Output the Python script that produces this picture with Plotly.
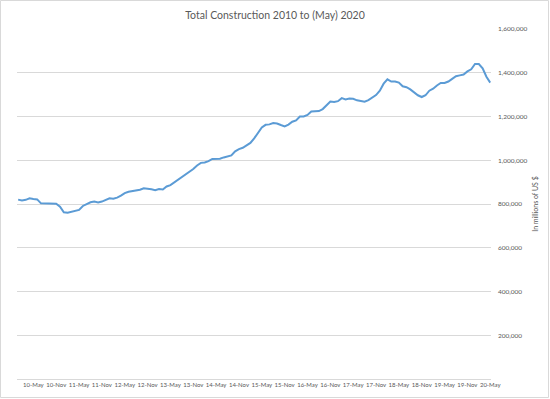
import plotly.graph_objects as go
import pandas as pd

# Monthly total construction spending, Jan 2010 .. May 2020 (millions of US $)
months = pd.date_range("2010-01-01", "2020-05-01", freq="MS").strftime("%Y-%m").tolist()
values = [
    820000, 816000, 819000, 826000, 823000, 821000, 803000, 803000, 804000, 802000,
    801000, 788000, 762000, 760000, 765000, 769000, 773000, 791000, 798000, 808000,
    811000, 807000, 811000, 818000, 826000, 824000, 829000, 838000, 850000, 856000,
    859000, 861000, 865000, 872000, 871000, 867000, 863000, 868000, 866000, 880000,
    886000, 898000, 911000, 923000, 932000, 945000, 960000, 976000, 988000, 990000,
    996000, 1006000, 1006000, 1007000, 1013000, 1017000, 1022000, 1041000, 1051000, 1057000,
    1067000, 1079000, 1100000, 1128000, 1150000, 1162000, 1164000, 1170000, 1168000, 1161000,
    1155000, 1163000, 1176000, 1182000, 1200000, 1200000, 1207000, 1223000, 1223000, 1225000,
    1234000, 1252000, 1268000, 1266000, 1270000, 1284000, 1278000, 1282000, 1281000, 1274000,
    1272000, 1268000, 1275000, 1285000, 1298000, 1318000, 1350000, 1370000, 1360000, 1360000,
    1355000, 1338000, 1334000, 1324000, 1311000, 1297000, 1289000, 1297000, 1318000, 1327000,
    1342000, 1353000, 1353000, 1360000, 1372000, 1384000, 1388000, 1392000, 1406000, 1416000,
    1440000, 1440000, 1420000, 1382000, 1355000,
]
tick_months = ["2010-05", "2010-11", "2011-05", "2011-11", "2012-05", "2012-11", "2013-05",
               "2013-11", "2014-05", "2014-11", "2015-05", "2015-11", "2016-05", "2016-11",
               "2017-05", "2017-11", "2018-05", "2018-11", "2019-05", "2019-11", "2020-05"]
tick_labels = ["10-May", "10-Nov", "11-May", "11-Nov", "12-May", "12-Nov", "13-May",
               "13-Nov", "14-May", "14-Nov", "15-May", "15-Nov", "16-May", "16-Nov",
               "17-May", "17-Nov", "18-May", "18-Nov", "19-May", "19-Nov", "20-May"]
y_ticks = [200000, 400000, 600000, 800000, 1000000, 1200000, 1400000, 1600000]

x_idx = list(range(len(values)))
tick_idx = [months.index(m) for m in tick_months]

FONT = "Lato"
GRAY = "#595959"

fig = go.Figure()
fig.add_trace(go.Scatter(
    x=x_idx, y=values, mode="lines",
    line=dict(color="#5B9BD5", width=2),
    hoverinfo="skip", showlegend=False,
))

L, R, T, B = 17, 59, 29, 20
W, H = 550, 399
pw, ph = W - L - R, H - T - B

fig.update_layout(
    width=W, height=H,
    margin=dict(l=L, r=R, t=T, b=B, pad=0, autoexpand=False),
    paper_bgcolor="white", plot_bgcolor="white",
    title=dict(text="Total Construction 2010 to (May) 2020", x=0.5, xanchor="center",
               y=1 - 15 / H, yanchor="middle", yref="container",
               font=dict(family=FONT, size=10.5, color=GRAY)),
    xaxis=dict(range=[-0.3, len(values) - 0.8], tickmode="array", tickvals=tick_idx,
               ticktext=tick_labels, tickangle=0,
               tickfont=dict(family=FONT, size=6, color=GRAY),
               showgrid=False, showline=True, linecolor="#D9D9D9", linewidth=1,
               ticks="", zeroline=False, fixedrange=True),
    yaxis=dict(range=[0, 1600000], side="right", tickmode="array", tickvals=y_ticks,
               tickformat=",", tickfont=dict(family=FONT, size=6.5, color=GRAY),
               showgrid=True, gridcolor="#D9D9D9", gridwidth=1, zeroline=False,
               showline=False, ticks="", ticklabelstandoff=6,
               title=dict(text="In millions of US $", standoff=6,
                          font=dict(family=FONT, size=7, color=GRAY))),
    shapes=[dict(type="rect", xref="paper", yref="paper",
                 x0=(0.5 - L) / pw, x1=(W - 1.5 - L) / pw,
                 y0=-(H - 1.5 - (H - B)) / ph, y1=1 + (T - 0.5) / ph,
                 line=dict(color="#D9D9D9", width=1), fillcolor="rgba(0,0,0,0)", layer="below")],
)

fig.write_html("out.html", config={"displayModeBar": False},
               post_script="document.body.style.margin='0';document.body.style.overflow='hidden';")
